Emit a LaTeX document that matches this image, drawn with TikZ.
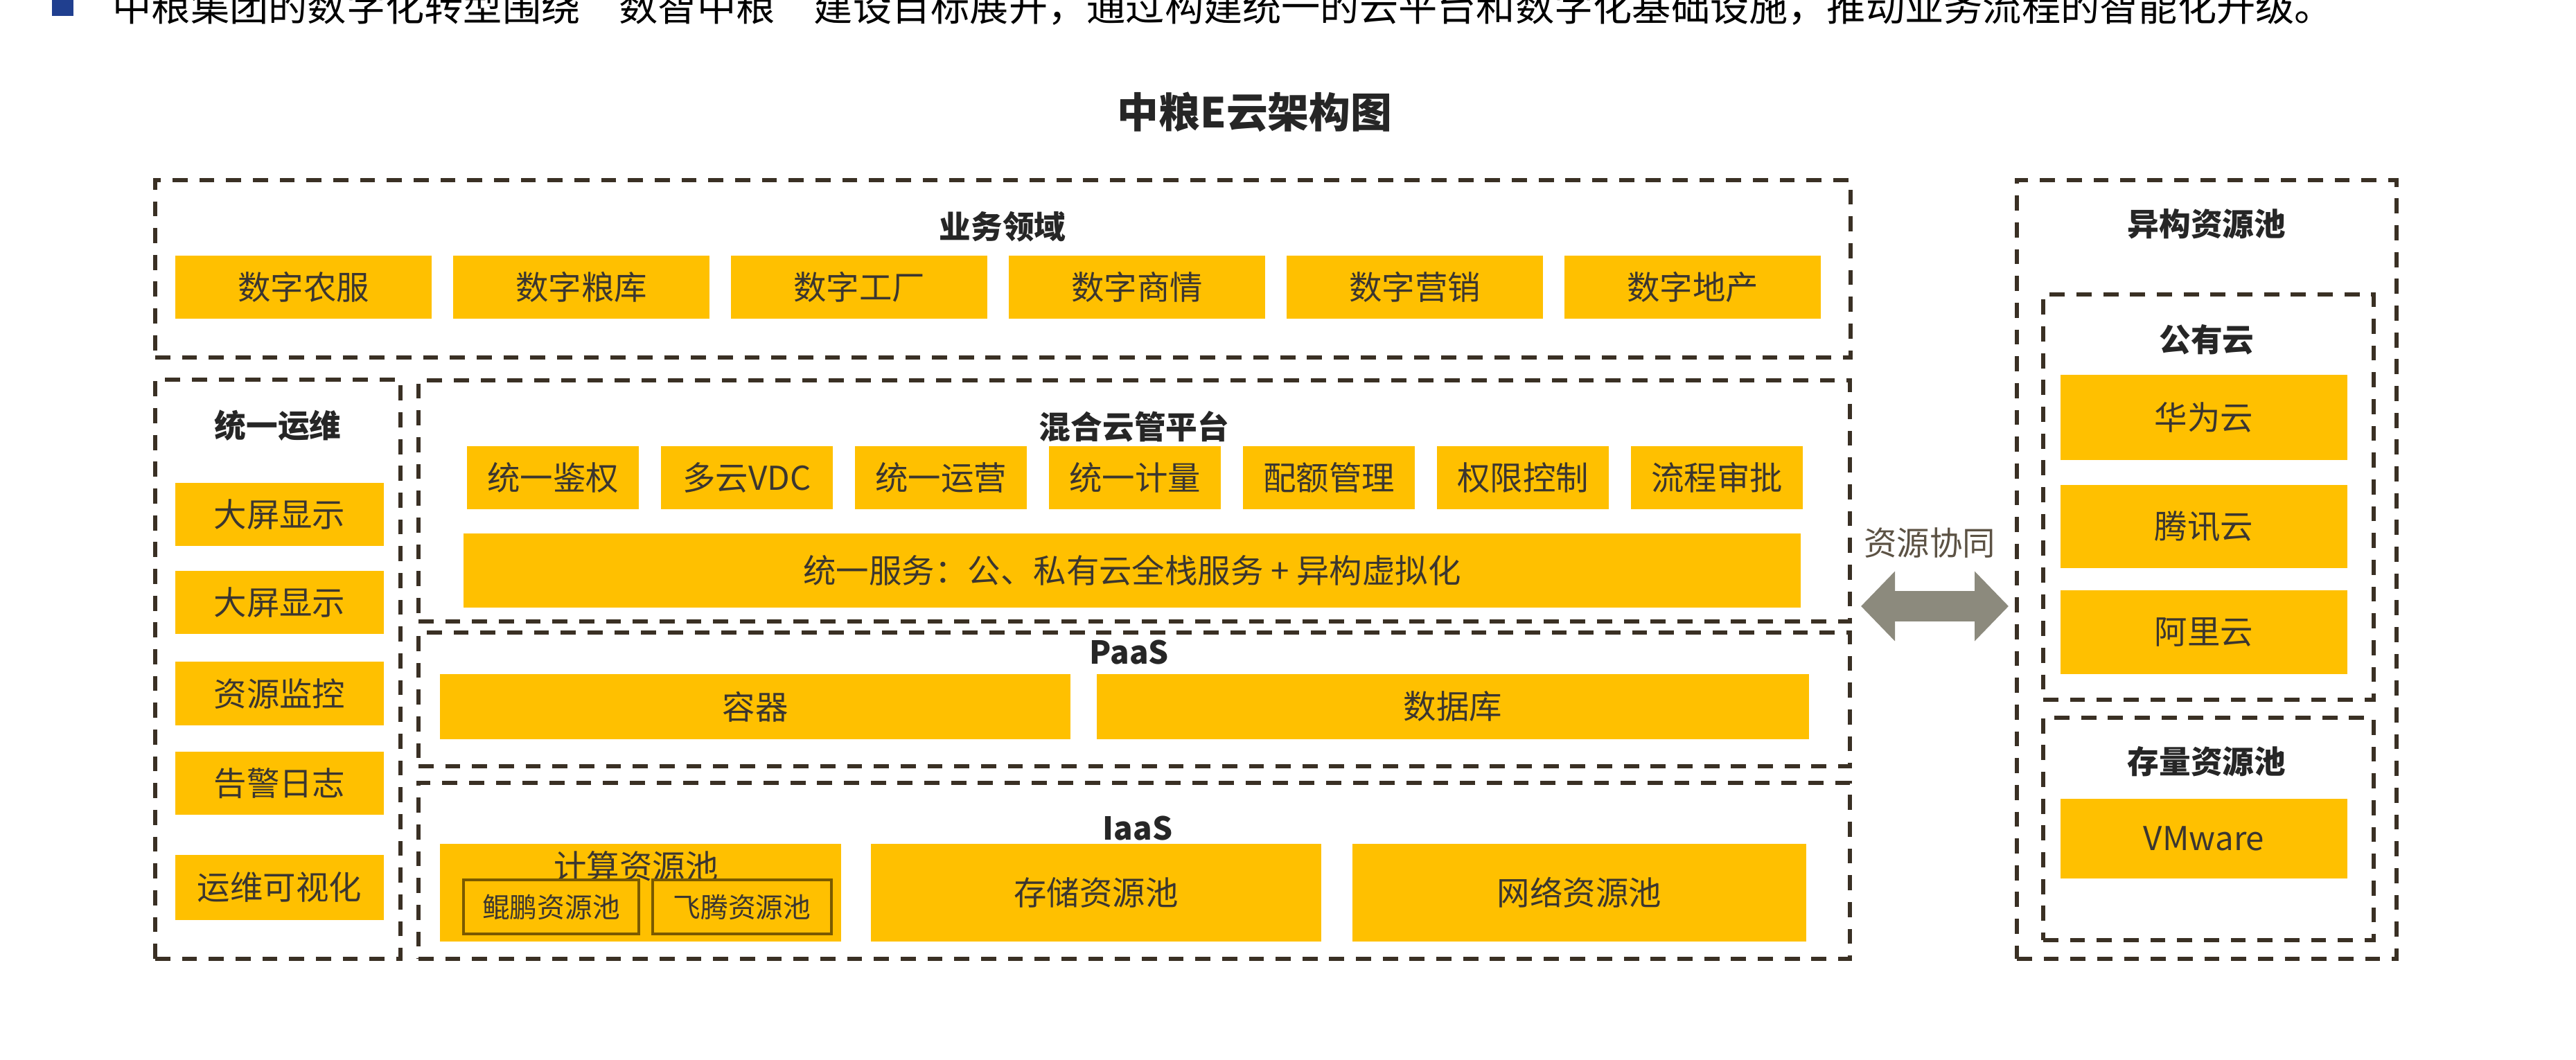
\documentclass[tikz,border=0pt]{standalone}
\usepackage{fontspec}
\setmainfont{Noto Sans CJK SC}
\usepackage{xcolor}
\usepackage{tikz}
\usetikzlibrary{arrows.meta,fit,positioning}
\definecolor{Ink}{HTML}{262626}
\definecolor{Tile}{HTML}{FFC000}
\definecolor{TileText}{HTML}{3B3630}
\definecolor{ZoneLine}{HTML}{3A3024}
\definecolor{SubLine}{HTML}{7A5A00}
\definecolor{Flow}{HTML}{8C8A7D}
\definecolor{FlowText}{HTML}{5C5244}
\definecolor{Bullet}{HTML}{203F8F}

\begin{document}
\begin{tikzpicture}[x=1cm,y=1cm,
  zone/.style={draw=ZoneLine,line width=1.7pt,dash pattern=on 6.2pt off 4.8pt,inner sep=0pt},
  tile/.style 2 args={fill=Tile,text=TileText,inner sep=0pt,minimum width=#1,minimum height=#2,font=\fontsize{13.5pt}{16pt}\selectfont},
  subtile/.style 2 args={tile={#1}{#2},draw=SubLine,line width=0.9pt,font=\fontsize{11.3pt}{13pt}\selectfont},
  zonetitle/.style={text=Ink,inner sep=0pt,font=\bfseries\fontsize{13pt}{15pt}\selectfont},
  syncflow/.style={Flow,line width=0.44cm,{Triangle[length=0.49cm,width=0.98cm]}-{Triangle[length=0.49cm,width=0.98cm]}}]
  \useasboundingbox (0,0) rectangle (37.18,15.29);
  \fill[Bullet] (0.75,15.06) rectangle (1.06,15.5);
  \node[anchor=base west,inner sep=0pt,text=black,font=\fontsize{16pt}{18pt}\selectfont] (lead) at (1.62,14.98) {中粮集团的数字化转型围绕“数智中粮”建设目标展开，通过构建统一的云平台和数字化基础设施，推动业务流程的智能化升级。};
  \node[text=Ink,font=\bfseries\fontsize{17pt}{20pt}\selectfont] (chart) at (18.11,13.67) {中粮E云架构图};

  \node[zone,fit={(2.24,12.69) (26.71,10.13)}] (biz) {};
  \node[zonetitle] (biztitle) at (14.47,12.02) {业务领域};
  \node[tile={3.70cm}{0.91cm}] (nongfu) at (4.38,11.145) {数字农服};
  \node[tile={3.70cm}{0.91cm}] (lianku) at (8.39,11.145) {数字粮库};
  \node[tile={3.70cm}{0.91cm}] (gongchang) at (12.40,11.145) {数字工厂};
  \node[tile={3.70cm}{0.91cm}] (shangqing) at (16.41,11.145) {数字商情};
  \node[tile={3.70cm}{0.91cm}] (yingxiao) at (20.42,11.145) {数字营销};
  \node[tile={3.70cm}{0.91cm}] (dichan) at (24.43,11.145) {数字地产};

  \node[zone,fit={(2.24,9.81) (5.78,1.45)}] (ops) {};
  \node[zonetitle] (opstitle) at (4.01,9.15) {统一运维};
  \node[tile={3.01cm}{0.91cm}] (screena) at (4.035,7.865) {大屏显示};
  \node[tile={3.01cm}{0.91cm}] (screenb) at (4.035,6.595) {大屏显示};
  \node[tile={3.01cm}{0.92cm}] (monitor) at (4.035,5.28) {资源监控};
  \node[tile={3.01cm}{0.91cm}] (alarm) at (4.035,3.985) {告警日志};
  \node[tile={3.01cm}{0.94cm}] (visual) at (4.035,2.48) {运维可视化};

  \node[zone,fit={(6.04,9.80) (26.70,6.32)}] (hybrid) {};
  \node[zonetitle] (hybridtitle) at (16.37,9.13) {混合云管平台};
  \node[tile={2.48cm}{0.91cm}] (auth) at (7.98,8.395) {统一鉴权};
  \node[tile={2.48cm}{0.91cm}] (vdc) at (10.78,8.395) {多云VDC};
  \node[tile={2.48cm}{0.91cm}] (operate) at (13.58,8.395) {统一运营};
  \node[tile={2.48cm}{0.91cm}] (meter) at (16.38,8.395) {统一计量};
  \node[tile={2.48cm}{0.91cm}] (quota) at (19.18,8.395) {配额管理};
  \node[tile={2.48cm}{0.91cm}] (perm) at (21.98,8.395) {权限控制};
  \node[tile={2.48cm}{0.91cm}] (approve) at (24.78,8.395) {流程审批};
  \node[tile={19.30cm}{1.07cm}] (service) at (16.34,7.055) {统一服务：公、私有云全栈服务 + 异构虚拟化};

  \node[zone,fit={(6.04,6.16) (26.70,4.23)}] (paas) {};
  \node[zonetitle] (paastitle) at (16.30,5.88) {PaaS};
  \node[tile={9.10cm}{0.94cm}] (container) at (10.90,5.09) {容器};
  \node[tile={10.28cm}{0.94cm}] (database) at (20.97,5.09) {数据库};

  \node[zone,fit={(6.04,3.99) (26.70,1.45)}] (iaas) {};
  \node[zonetitle] (iaastitle) at (16.42,3.34) {IaaS};
  \node[tile={5.79cm}{1.41cm}] (compute) at (9.245,2.405) {};
  \node[text=TileText,inner sep=0pt,font=\fontsize{13.5pt}{16pt}\selectfont] (computetitle) at (9.18,2.79) {计算资源池};
  \node[subtile={2.53cm}{0.78cm}] (kunpeng) at (7.955,2.20) {鲲鹏资源池};
  \node[subtile={2.58cm}{0.78cm}] (feiteng) at (10.71,2.20) {飞腾资源池};
  \node[tile={6.50cm}{1.41cm}] (storage) at (15.82,2.405) {存储资源池};
  \node[tile={6.55cm}{1.41cm}] (network) at (22.795,2.405) {网络资源池};

  \node[zone,fit={(29.11,12.69) (34.59,1.45)}] (hetero) {};
  \node[zonetitle] (heterotitle) at (31.85,12.06) {异构资源池};
  \node[zone,fit={(29.49,11.04) (34.26,5.19)}] (public) {};
  \node[zonetitle] (publictitle) at (31.85,10.39) {公有云};
  \node[tile={4.14cm}{1.23cm}] (huawei) at (31.81,9.265) {华为云};
  \node[tile={4.14cm}{1.20cm}] (tencent) at (31.81,7.69) {腾讯云};
  \node[tile={4.14cm}{1.21cm}] (aliyun) at (31.81,6.165) {阿里云};
  \node[zone,fit={(29.49,4.93) (34.26,1.72)}] (stock) {};
  \node[zonetitle] (stocktitle) at (31.85,4.30) {存量资源池};
  \node[tile={4.14cm}{1.15cm}] (vmware) at (31.81,3.185) {VMware};

  \coordinate (syncrow) at (27.90,6.54);
  \draw[syncflow,shorten <=0.13cm,shorten >=0.09cm] (hybrid.east |- syncrow) -- (hetero.west |- syncrow);
  \node[text=FlowText,font=\fontsize{13.5pt}{16pt}\selectfont] (synctext) at (27.85,7.45) {资源协同};
\end{tikzpicture}
\end{document}
